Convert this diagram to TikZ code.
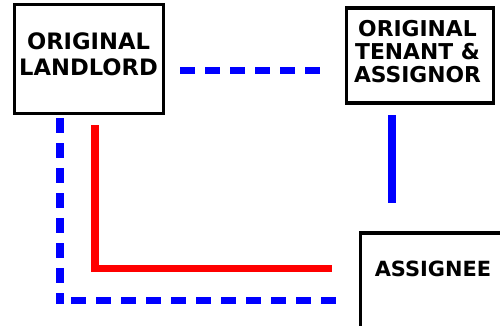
\documentclass[tikz,border=0pt]{standalone}
\usepackage{fontspec}
\setmainfont{DejaVu Sans}
\begin{document}
\begin{tikzpicture}[x=1bp,y=-1bp,
  box/.style={draw=black,line width=3.5bp,inner sep=0pt,fill=white},
  lbl/.style={inner sep=0pt,align=center,font=\bfseries},
  bluedash/.style={draw={rgb,255:red,0;green,0;blue,255},line width=7.5bp,dash pattern=on 15bp off 10bp},
  bluesolid/.style={draw={rgb,255:red,0;green,0;blue,255},line width=8bp},
  redline/.style={draw={rgb,255:red,255;green,0;blue,0},line width=7.5bp}]
\clip (0,0) rectangle (500,325);
\fill[white] (0,0) rectangle (500,325);
% boxes
\node[box,minimum width=149bp,minimum height=109bp] (landlord) at (89,59) {};
\node[box,minimum width=147bp,minimum height=95bp] (tenant) at (420,55.5) {};
\node[box,anchor=north west,minimum width=160bp,minimum height=110bp] (assignee) at (358.5,231) {};
% labels
\node[lbl,font=\bfseries\fontsize{22.7}{26}\selectfont] (t1) at (88.5,54) {ORIGINAL\\LANDLORD};
\node[lbl,font=\bfseries\fontsize{21.9}{23}\selectfont] (t2) at (417.5,51.5) {ORIGINAL\\TENANT \&\\ASSIGNOR};
\node[lbl,font=\bfseries\fontsize{21}{23}\selectfont] (t3) at (433,269) {ASSIGNEE};
% connector end points
\coordinate (a1) at (180,70.5);
\coordinate (a2) at (320,70.5);
\coordinate (b1) at (392,115);
\coordinate (b2) at (392,203);
\coordinate (c1) at (60,118);
\coordinate (c2) at (60,304);
\coordinate (d1) at (71,300.5);
\coordinate (d2) at (336,300.5);
\coordinate (e1) at (95,125);
\coordinate (e2) at (95,268.5);
\coordinate (e3) at (332,268.5);
% connectors
\draw[bluedash] (a1) -- (a2);
\draw[bluesolid] (b1) -- (b2);
\draw[bluedash] (c1) -- (c2);
\draw[bluedash] (d1) -- (d2);
\draw[redline] (e1) -- (e2) -- (e3);
\end{tikzpicture}
\end{document}
